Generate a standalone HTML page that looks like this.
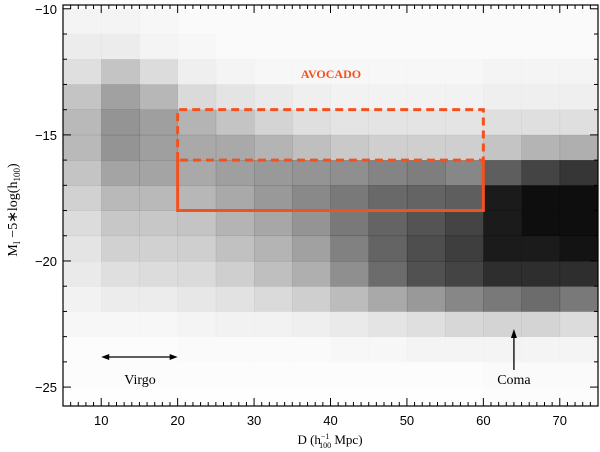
<!DOCTYPE html>
<html><head><meta charset="utf-8">
<style>
html,body{margin:0;padding:0;background:#fff;}
svg{display:block;}
text{font-family:"Liberation Sans",sans-serif;fill:#000;}
.serif{font-family:"Liberation Serif",serif;}
</style></head>
<body>
<svg id="chart" width="600" height="452" viewBox="0 0 600 452" xmlns="http://www.w3.org/2000/svg">
<g id="cells"></g>
<g id="ticks"></g>
<rect x="63" y="5" width="535" height="401" fill="none" stroke="#000" stroke-width="1.2"/>
<g id="boxes"></g>
<text x="331" y="78" text-anchor="middle" font-size="12" font-weight="bold" style="fill:#f4511e" class="serif">AVOCADO</text>
<g id="annot"></g>
<text transform="translate(17,210) rotate(-90)" text-anchor="middle" font-size="14" class="serif">M<tspan font-size="9" dy="3">I</tspan><tspan dy="-3"> −5∗log(h</tspan><tspan font-size="9" dy="3">100</tspan><tspan dy="-3">)</tspan></text>
<text x="330" y="444" text-anchor="middle" font-size="13" class="serif">D (h<tspan font-size="8" dy="-5">−1</tspan><tspan font-size="8" dx="-10" dy="9">100</tspan><tspan dy="-4">  Mpc)</tspan></text>
</svg>
<script>
const xBins = [5,10,15,20,25,30,35,40,45,50,55,60,65,70];
const magBins = [-10,-11,-12,-13,-14,-15,-16,-17,-18,-19,-20,-21,-22,-23,-24,-25];
const density = [
[0.04,0.04,0.03,0.02,0.02,0.02,0.02,0.02,0.02,0.02,0.02,0.02,0.02,0.02],
[0.07,0.07,0.04,0.03,0.02,0.02,0.02,0.02,0.02,0.02,0.02,0.02,0.02,0.02],
[0.12,0.22,0.13,0.06,0.04,0.03,0.03,0.03,0.03,0.03,0.03,0.04,0.04,0.04],
[0.22,0.35,0.27,0.14,0.10,0.08,0.06,0.05,0.05,0.05,0.05,0.06,0.06,0.06],
[0.26,0.40,0.36,0.28,0.22,0.16,0.12,0.10,0.10,0.10,0.10,0.12,0.12,0.12],
[0.26,0.40,0.36,0.32,0.32,0.28,0.24,0.20,0.18,0.18,0.18,0.22,0.28,0.30],
[0.22,0.34,0.34,0.32,0.36,0.38,0.40,0.42,0.46,0.48,0.45,0.60,0.70,0.75],
[0.17,0.26,0.26,0.27,0.32,0.38,0.44,0.50,0.56,0.58,0.60,0.85,0.90,0.90],
[0.13,0.21,0.21,0.22,0.28,0.33,0.40,0.50,0.58,0.64,0.70,0.85,0.90,0.90],
[0.10,0.17,0.17,0.18,0.23,0.28,0.35,0.47,0.58,0.66,0.72,0.85,0.85,0.88],
[0.08,0.12,0.13,0.14,0.18,0.24,0.30,0.42,0.55,0.65,0.70,0.78,0.78,0.78],
[0.05,0.07,0.07,0.09,0.11,0.14,0.18,0.25,0.32,0.38,0.45,0.50,0.55,0.50],
[0.03,0.03,0.03,0.04,0.05,0.05,0.06,0.08,0.10,0.12,0.15,0.16,0.16,0.13],
[0.01,0.01,0.01,0.02,0.02,0.02,0.02,0.03,0.03,0.04,0.04,0.04,0.04,0.04],
[0.01,0.01,0.01,0.01,0.01,0.01,0.01,0.01,0.01,0.01,0.01,0.02,0.02,0.02],
[0.005,0.005,0.005,0.005,0.005,0.005,0.005,0.005,0.005,0.005,0.005,0.01,0.01,0.01]
];
const xTickLabels = [10,20,30,40,50,60,70];
const yTickLabels = [-10,-15,-20,-25];
const solidBox = {x0:20,x1:60,m0:-16,m1:-18};
const dashBox = {x0:20,x1:60,m0:-14,m1:-16};

const X0=5,X1=75,PX0=63,PX1=598, M0=-9.85,M1=-25.75,PY0=5,PY1=406;
const sx = v => PX0+(v-X0)/(X1-X0)*(PX1-PX0);
const sy = m => PY0+(m-M0)/(M1-M0)*(PY1-PY0);
const NS='http://www.w3.org/2000/svg';
function mk(tag,attrs,parent){const e=document.createElementNS(NS,tag);for(const k in attrs)e.setAttribute(k,attrs[k]);parent.appendChild(e);return e;}

const cells=document.getElementById('cells');
density.forEach((row,i)=>row.forEach((d,j)=>{
  const top=Math.max(sy(magBins[i]),PY0), bot=Math.min(sy(magBins[i]-1),PY1);
  const r=mk('rect',{x:sx(xBins[j]),y:top,width:sx(xBins[j]+5)-sx(xBins[j])+0.3,height:bot-top+0.3,fill:'#000','fill-opacity':Math.min(1,d*1.05)},cells);
  
  
}));

const tk=document.getElementById('ticks');
for(let v=X0;v<=X1;v++){
  const major=v%10===0, L=major?8:4, x=sx(v);
  mk('line',{x1:x,y1:PY1,x2:x,y2:PY1-L,stroke:'#000','stroke-width':1},tk);
  mk('line',{x1:x,y1:PY0,x2:x,y2:PY0+L,stroke:'#000','stroke-width':1},tk);
}
xTickLabels.forEach(v=>{const t=mk('text',{x:sx(v),y:425,'text-anchor':'middle','font-size':13},tk);t.textContent=v;
  
  });
for(let m=-10;m>=-25;m--){
  const major=m%5===0, L=major?8:4, y=sy(m);
  mk('line',{x1:PX0,y1:y,x2:PX0+L,y2:y,stroke:'#000','stroke-width':1},tk);
  mk('line',{x1:PX1,y1:y,x2:PX1-L,y2:y,stroke:'#000','stroke-width':1},tk);
}
yTickLabels.forEach(v=>{const t=mk('text',{x:57,y:sy(v)+5,'text-anchor':'end','font-size':13},tk);t.textContent='−'+Math.abs(v);
  
  });

const bx=document.getElementById('boxes');
const OR='#f4511e';
const a=sx(solidBox.x0),b=sx(solidBox.x1),c=sy(solidBox.m0),d=sy(solidBox.m1);
mk('polyline',{points:`${a},${c} ${a},${d} ${b},${d} ${b},${c}`,fill:'none',stroke:OR,'stroke-width':3},bx);
const e=sy(dashBox.m0);
mk('polyline',{points:`${a},${c} ${a},${e} ${b},${e} ${b},${c} ${a},${c}`,fill:'none',stroke:OR,'stroke-width':3,'stroke-dasharray':'8,5'},bx);

const an=document.getElementById('annot');
const vy=357, va=sx(10), vb=sx(20);
mk('line',{x1:va+6,y1:vy,x2:vb-6,y2:vy,stroke:'#000','stroke-width':1.3},an);
mk('polygon',{points:`${va},${vy} ${va+8},${vy-3} ${va+8},${vy+3}`,fill:'#000'},an);
mk('polygon',{points:`${vb},${vy} ${vb-8},${vy-3} ${vb-8},${vy+3}`,fill:'#000'},an);
let t=mk('text',{x:140,y:384,'text-anchor':'middle','font-size':14,class:'serif'},an);t.textContent='Virgo';


const cx=sx(64);
mk('line',{x1:cx,y1:370,x2:cx,y2:336,stroke:'#000','stroke-width':1.3},an);
mk('polygon',{points:`${cx},${329} ${cx-3},${338} ${cx+3},${338}`,fill:'#000'},an);
t=mk('text',{x:cx,y:384,'text-anchor':'middle','font-size':14,class:'serif'},an);t.textContent='Coma';


</script>
</body></html>
